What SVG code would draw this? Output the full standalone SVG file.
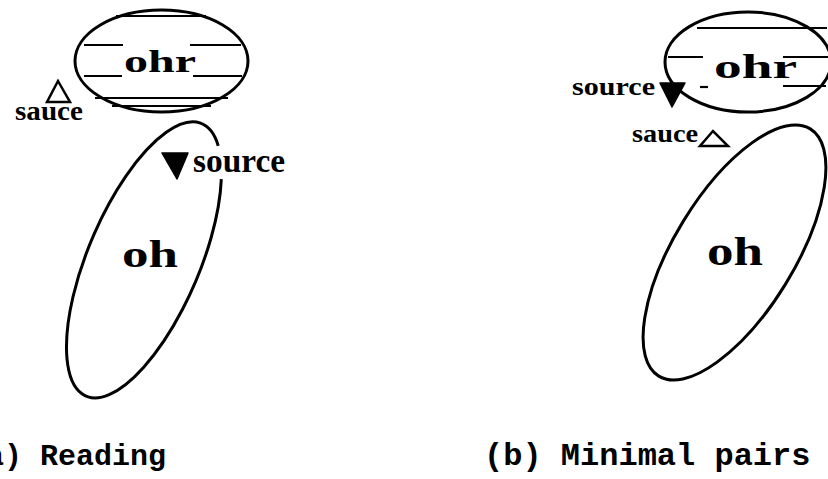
<svg xmlns="http://www.w3.org/2000/svg" width="828" height="479" viewBox="0 0 828 479">
<style>
.shape{fill:none;stroke:#000;stroke-width:3}
.stripe{stroke:#000;stroke-width:2.2;fill:none}
.hand{font-family:"Liberation Serif","DejaVu Serif",serif;font-weight:bold;fill:#000}
.cap{font-family:"Liberation Mono","DejaVu Sans Mono",monospace;font-weight:bold;fill:#000}
.solid{fill:#000;stroke:#000;stroke-width:1.5;stroke-linejoin:round}
.open{fill:none;stroke:#000;stroke-width:2.5;stroke-linejoin:miter}
</style>
<rect width="828" height="479" fill="#fff"/>
<g id="panel-a">
  <g id="a-ohr">
    <ellipse class="shape" cx="161.5" cy="61" rx="86.5" ry="51"/>
    <line class="stripe" x1="116" y1="16" x2="206" y2="16"/>
    <line class="stripe" x1="84" y1="45" x2="123" y2="45"/>
    <line class="stripe" x1="190" y1="45" x2="241" y2="45"/>
    <line class="stripe" x1="84" y1="76" x2="122" y2="76"/>
    <line class="stripe" x1="193" y1="76" x2="242" y2="76"/>
    <line class="stripe" x1="95" y1="98" x2="228" y2="98"/>
    <line class="stripe" x1="112" y1="106" x2="211" y2="106"/>
    <text class="hand" x="124" y="72" font-size="32" textLength="72" lengthAdjust="spacingAndGlyphs">ohr</text>
  </g>
  <g id="a-sauce">
    <polygon class="open" points="58,81 47,102 70,102"/>
    <text class="hand" x="15" y="120" font-size="27" textLength="68" lengthAdjust="spacingAndGlyphs">sauce</text>
  </g>
  <g id="a-oh">
    <path class="shape" d="M221.3,179.1 A56,148 23 1 1 218.2,145.8"/>
    <text class="hand" x="122" y="267" font-size="38" textLength="56" lengthAdjust="spacingAndGlyphs">oh</text>
  </g>
  <g id="a-source">
    <polygon class="solid" points="162,153 188,153 177,179"/>
    <text class="hand" x="193" y="172" font-size="33" textLength="92" lengthAdjust="spacingAndGlyphs">source</text>
  </g>
  <text class="cap" x="-32" y="465" font-size="30">(a) Reading</text>
</g>
<g id="panel-b">
  <g id="b-ohr">
    <ellipse class="shape" cx="748" cy="62" rx="83" ry="50"/>
    <line class="stripe" x1="697" y1="28" x2="827" y2="28"/>
    <line class="stripe" x1="668" y1="57" x2="703" y2="57"/>
    <line class="stripe" x1="783" y1="57" x2="828" y2="57"/>
    <line class="stripe" x1="700" y1="87" x2="708" y2="87"/>
    <line class="stripe" x1="783" y1="86" x2="826" y2="86"/>
    <text class="hand" x="714" y="78" font-size="34" textLength="83" lengthAdjust="spacingAndGlyphs">ohr</text>
  </g>
  <g id="b-source">
    <polygon class="solid" points="660,83 685,83 672,107"/>
    <text class="hand" x="572" y="95" font-size="25" textLength="83" lengthAdjust="spacingAndGlyphs">source</text>
  </g>
  <g id="b-sauce">
    <polygon class="open" points="713,131 700,146 728,146"/>
    <text class="hand" x="632" y="142" font-size="25" textLength="66" lengthAdjust="spacingAndGlyphs">sauce</text>
  </g>
  <g id="b-oh">
    <ellipse class="shape" cx="734.5" cy="252.5" rx="60" ry="145" transform="rotate(31.5 734.5 252.5)"/>
    <text class="hand" x="707" y="265" font-size="40" textLength="56" lengthAdjust="spacingAndGlyphs">oh</text>
  </g>
  <text class="cap" x="484" y="465" font-size="32">(b) Minimal pairs</text>
</g>
</svg>
